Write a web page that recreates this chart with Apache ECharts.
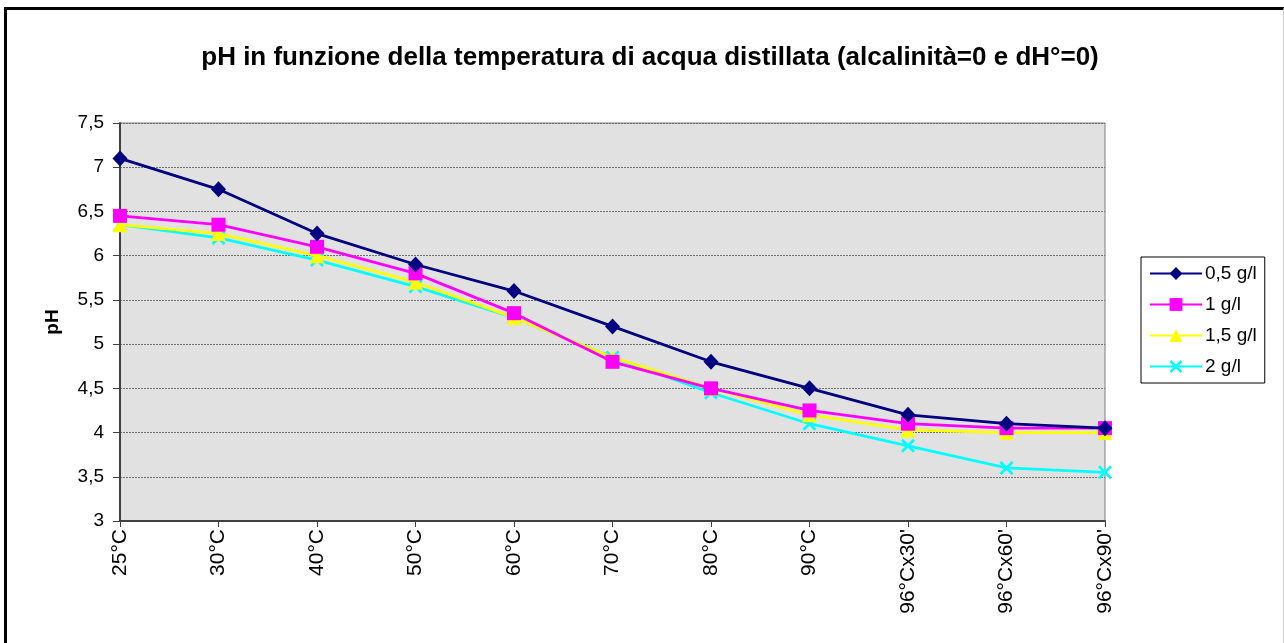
<!DOCTYPE html>
<html>
<head>
<meta charset="utf-8">
<script src="https://cdn.jsdelivr.net/npm/echarts@6/dist/echarts.min.js"></script>
<style>
  html, body { margin: 0; padding: 0; background: #fff; }
  #frame {
    position: absolute; left: 4px; top: 7px; width: 1276px; height: 640px;
    border-left: 3px solid #000; border-top: 3px solid #000; border-right: 1px solid #ccc;
  }
  #chart { position: absolute; left: 0; top: 0; width: 1284px; height: 643px; }
</style>
</head>
<body>
<div id="frame"></div>
<div id="chart"></div>
<script>
// categorie (temperature)
const categories = ['25°C', '30°C', '40°C', '50°C', '60°C', '70°C', '80°C', '90°C', "96°Cx30'", "96°Cx60'", "96°Cx90'"]
const seriesNames = ['0,5 g/l', '1 g/l', '1,5 g/l', '2 g/l']
// valori pH
const ph05 = [7.1, 6.75, 6.25, 5.9, 5.6, 5.2, 4.8, 4.5, 4.2, 4.1, 4.05]
const ph1 = [6.45, 6.35, 6.1, 5.8, 5.35, 4.8, 4.5, 4.25, 4.1, 4.05, 4.05]
const ph15 = [6.35, 6.25, 6.0, 5.7, 5.3, 4.85, 4.5, 4.2, 4.03, 4.0, 4.0]
const ph2 = [6.35, 6.2, 5.95, 5.65, 5.3, 4.85, 4.45, 4.1, 3.85, 3.6, 3.55]

const colors = ['#000080', '#ff00ff', '#ffff00', '#00ffff']
const crossPath = 'path://M0,1.4L1.4,0L5,3.6L8.6,0L10,1.4L6.4,5L10,8.6L8.6,10L5,6.4L1.4,10L0,8.6L3.6,5Z'
const symbols = ['diamond', 'rect', 'triangle', crossPath]
const symbolSizes = [[15, 16], 14, 15, 14]
const dataSets = [ph05, ph1, ph15, ph2]

const chart = echarts.init(document.getElementById('chart'))

const font = 'Arial, "Liberation Sans", sans-serif'

chart.setOption({
  animation: false,
  title: {
    text: 'pH in funzione della temperatura di acqua distillata (alcalinità=0 e dH°=0)',
    left: 645,
    top: 40,
    textAlign: 'center',
    textStyle: { fontFamily: font, fontSize: 26, fontWeight: 'bold', color: '#000' }
  },
  grid: {
    left: 120, right: 179, top: 123, bottom: 122,
    show: true, backgroundColor: '#e1e1e1', borderColor: '#808080', borderWidth: 1
  },
  legend: {
    orient: 'vertical',
    left: 1141, top: 257,
    padding: [7, 8, 7, 8],
    itemWidth: 52, itemHeight: 16, itemGap: 12,
    borderColor: '#000', borderWidth: 1,
    textStyle: { fontFamily: font, fontSize: 19, color: '#000', padding: [0, 0, 0, -2] },
    data: seriesNames
  },
  xAxis: {
    type: 'category',
    data: categories,
    boundaryGap: false,
    axisLine: { lineStyle: { color: '#404040', width: 2 } },
    axisTick: { alignWithLabel: true, length: 6, lineStyle: { color: '#404040' } },
    axisLabel: { rotate: 90, fontFamily: font, fontSize: 21, color: '#000', margin: 8, interval: 0 },
    splitLine: { show: false }
  },
  yAxis: {
    type: 'value',
    min: 3, max: 7.5, interval: 0.5,
    name: 'pH',
    nameLocation: 'middle',
    nameRotate: 90,
    nameGap: 58,
    nameTextStyle: { fontFamily: font, fontSize: 19, fontWeight: 'bold', color: '#000' },
    axisLine: { show: true, lineStyle: { color: '#404040', width: 2 } },
    axisTick: { show: true, length: 7, lineStyle: { color: '#404040' } },
    axisLabel: {
      fontFamily: font, fontSize: 19, color: '#000', margin: 16,
      formatter: v => String(v).replace('.', ',')
    },
    splitLine: { lineStyle: { color: '#707070', type: [2, 1], width: 1 } }
  },
  series: seriesNames.map((name, i) => ({
    name,
    type: 'line',
    data: dataSets[i],
    symbol: symbols[i],
    symbolSize: symbolSizes[i],
    showSymbol: true,
    color: colors[i],
    lineStyle: { color: colors[i], width: 2.8 },
    itemStyle: { color: colors[i] },
    z: 10 - i
  }))
})
</script>
</body>
</html>
